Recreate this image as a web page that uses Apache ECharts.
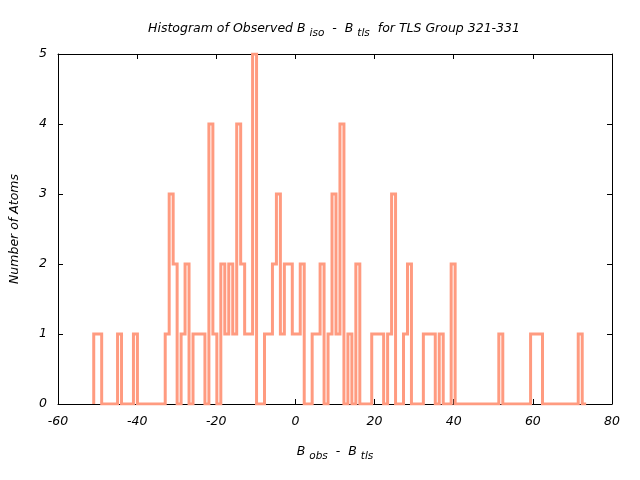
<!DOCTYPE html>
<html>
<head>
<meta charset="utf-8">
<script src="https://cdn.jsdelivr.net/npm/echarts@6/dist/echarts.min.js"></script>
<style>html,body{margin:0;padding:0;background:#fff}#c{width:640px;height:480px}</style>
</head>
<body>
<div id="c"></div>
<script>
// Histogram bins (uniform width) and observed counts
const binStart = -50.97;
const binWidth = 1.0036;
const counts = [
  1,1,0,0,0,0,
  1,0,0,0,1,0,0,0,0,0,
  0,0,1,3,2,0,1,2,0,1,
  1,1,0,4,1,0,2,1,2,1,
  4,2,1,1,5,0,0,1,1,2,
  3,1,2,2,1,1,2,0,0,1,
  1,2,0,1,3,1,4,0,1,0,
  2,0,0,0,1,1,1,0,1,3,
  0,0,1,2,0,0,0,1,1,1,
  0,1,0,0,2,0,0,0,0,0,
  0,0,0,0,0,0,1,0,0,0,
  0,0,0,0,1,1,1,0,0,0,
  0,0,0,0,0,0,1,0
];
const xTicks = [-60, -40, -20, 0, 20, 40, 60, 80];
const yTicks = [0, 1, 2, 3, 4, 5];

// build histogram step outline in data space
const steps = [[binStart, 0]];
counts.forEach((c, i) => {
  const x0 = binStart + i * binWidth;
  steps.push([x0, c], [x0 + binWidth, c]);
});
steps.push([binStart + counts.length * binWidth, 0]);

const FONT = '"DejaVu Sans", sans-serif';
const baseText = {fontFamily: FONT, fontStyle: 'italic', color: '#000'};
const FS = 12.5, SFS = 10.5;

const xMin = xTicks[0], xMax = xTicks[xTicks.length - 1];
const xInt = xTicks[1] - xTicks[0];
const yMin = yTicks[0], yMax = yTicks[yTicks.length - 1];
const yInt = yTicks[1] - yTicks[0];

const axisCommon = {
  type: 'value',
  axisLine: {show: true, onZero: false, lineStyle: {color: '#000', width: 1}},
  axisTick: {show: true, inside: true, length: 5, lineStyle: {color: '#000'}},
  splitLine: {show: false}
};
const richSub = {
  i: Object.assign({fontSize: FS, lineHeight: 16}, baseText),
  s: Object.assign({fontSize: SFS, lineHeight: 16, padding: [8, 0, 0, 0]}, baseText)
};

const chart = echarts.init(document.getElementById('c'), null, {renderer: 'canvas'});
chart.setOption({
  animation: false,
  backgroundColor: '#fff',
  grid: {left: 58, right: 28, top: 54, bottom: 76, containLabel: false},
  graphic: [{
    type: 'text',
    x: 334, y: 29,
    style: {
      text: '{i|Histogram of Observed B }{s|iso}{i|  -  B }{s|tls}{i|  for TLS Group 321-331}',
      align: 'center', verticalAlign: 'middle',
      rich: richSub
    }
  }],
  xAxis: [
    Object.assign({}, axisCommon, {
      position: 'bottom', min: xMin, max: xMax, interval: xInt,
      axisLabel: Object.assign({fontSize: FS, margin: 11}, baseText),
      name: '{i|B }{s|obs}{i|  -  B }{s|tls}',
      nameLocation: 'middle', nameGap: 40,
      nameTextStyle: {rich: richSub}
    }),
    Object.assign({}, axisCommon, {
      position: 'top', min: xMin, max: xMax, interval: xInt,
      axisLabel: {show: false}
    })
  ],
  yAxis: [
    Object.assign({}, axisCommon, {
      position: 'left', min: yMin, max: yMax, interval: yInt,
      axisLabel: Object.assign({fontSize: FS, margin: 11}, baseText),
      name: 'Number of Atoms', nameLocation: 'middle', nameGap: 37, nameRotate: 90,
      nameTextStyle: Object.assign({fontSize: FS}, baseText)
    }),
    Object.assign({}, axisCommon, {
      position: 'right', min: yMin, max: yMax, interval: yInt,
      axisLabel: {show: false}
    })
  ],
  series: [{
    type: 'line',
    xAxisIndex: 0, yAxisIndex: 0,
    data: steps,
    showSymbol: false,
    symbol: 'none',
    lineStyle: {color: '#ff9b80', width: 3, join: 'miter', cap: 'butt'},
    z: 1,
    silent: true
  }]
});
</script>
</body>
</html>
